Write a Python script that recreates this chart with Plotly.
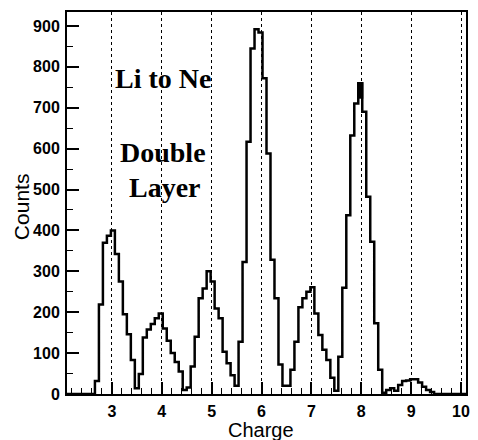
import numpy as np
import plotly.graph_objects as go

# Histogram: 100 bins from 2.1 to 10.1 (width 0.08)
bin_start = 2.1
bin_width = 0.08
counts = [
    0, 0, 0, 0, 0, 0, 0, 32, 219, 370,
    387, 400, 342, 275, 195, 146, 83, 14, 49, 138,
    158, 171, 185, 197, 160, 130, 100, 78, 55, 10,
    16, 67, 140, 234, 258, 300, 275, 209, 185, 103,
    75, 46, 20, 128, 323, 617, 845, 892, 884, 772,
    588, 328, 234, 72, 20, 20, 59, 128, 212, 234,
    250, 261, 197, 144, 108, 83, 40, 8, 91, 260,
    437, 632, 710, 760, 690, 482, 372, 173, 59, 3,
    10, 14, 8, 22, 32, 33, 36, 36, 28, 18,
    10, 5, 0, 0, 0, 0, 0, 0, 0, 0,
]
# thick mark at the oxygen peak
blob_x = [7.98]
blob_y = [742]
blob_err = [20]

x_ticks = [3, 4, 5, 6, 7, 8, 9, 10]
y_ticks = [0, 100, 200, 300, 400, 500, 600, 700, 800, 900]
labels = ["Li to Ne", "Double", "Layer"]

n = len(counts)
edges = bin_start + bin_width * np.arange(n + 1)
xs = list(edges)
ys = list(counts) + [counts[-1]]

fig = go.Figure()
fig.add_trace(go.Scatter(
    x=xs, y=ys, mode="lines", line=dict(shape="hv", color="black", width=2.5),
    hoverinfo="skip", showlegend=False))
fig.add_trace(go.Scatter(
    x=blob_x, y=blob_y, mode="markers", marker=dict(size=1, color="black"),
    error_y=dict(type="data", array=blob_err, color="black", thickness=6, width=0),
    showlegend=False, hoverinfo="skip"))

tickfont = dict(family="Liberation Sans, Arial, sans-serif", size=16, color="black", weight="bold")

fig.update_xaxes(
    range=[bin_start, bin_start + bin_width * n], tickvals=x_ticks,
    ticks="inside", ticklen=12, tickwidth=1.5, tickcolor="black",
    showline=True, linecolor="black", linewidth=2, mirror=True,
    showgrid=True, gridcolor="black", griddash="dot", gridwidth=1,
    zeroline=False, tickfont=tickfont, ticklabelstandoff=2,
    minor=dict(dtick=0.2, tick0=3, ticks="inside", ticklen=6, tickcolor="black", tickwidth=1.2, showgrid=False),
)
fig.update_yaxes(
    range=[0, 934], tickvals=y_ticks,
    ticks="inside", ticklen=12, tickwidth=1.5, tickcolor="black",
    showline=True, linecolor="black", linewidth=2, mirror=True,
    showgrid=False, zeroline=False, tickfont=tickfont, ticklabelstandoff=2,
    minor=dict(dtick=50, tick0=0, ticks="inside", ticklen=6, tickcolor="black", tickwidth=1.2, showgrid=False),
)

serif = dict(family="Liberation Serif, Times New Roman, serif", size=28, color="black", weight="bold")
ann_pos = [(0.241, 0.826), (0.240, 0.632), (0.246, 0.541)]
annotations = []
for t, (px, py) in zip(labels, ann_pos):
    annotations.append(dict(text=t, x=px, y=py, xref="paper", yref="paper",
                            showarrow=False, font=serif, xanchor="center", yanchor="middle"))
annotations.append(dict(text="Charge", x=0.486, y=-0.095, xref="paper", yref="paper",
                        showarrow=False, xanchor="center", yanchor="middle",
                        font=dict(family="Liberation Sans, Arial, sans-serif", size=20, color="black")))
annotations.append(dict(text="Counts", x=-0.112, y=0.49, xref="paper", yref="paper",
                        showarrow=False, xanchor="center", yanchor="middle", textangle=-90,
                        font=dict(family="Liberation Sans, Arial, sans-serif", size=21, color="black")))

fig.update_layout(
    width=478, height=440,
    margin=dict(l=67, r=8, t=12, b=46),
    paper_bgcolor="white", plot_bgcolor="white",
    annotations=annotations, showlegend=False,
)

fig.write_html("out.html")
